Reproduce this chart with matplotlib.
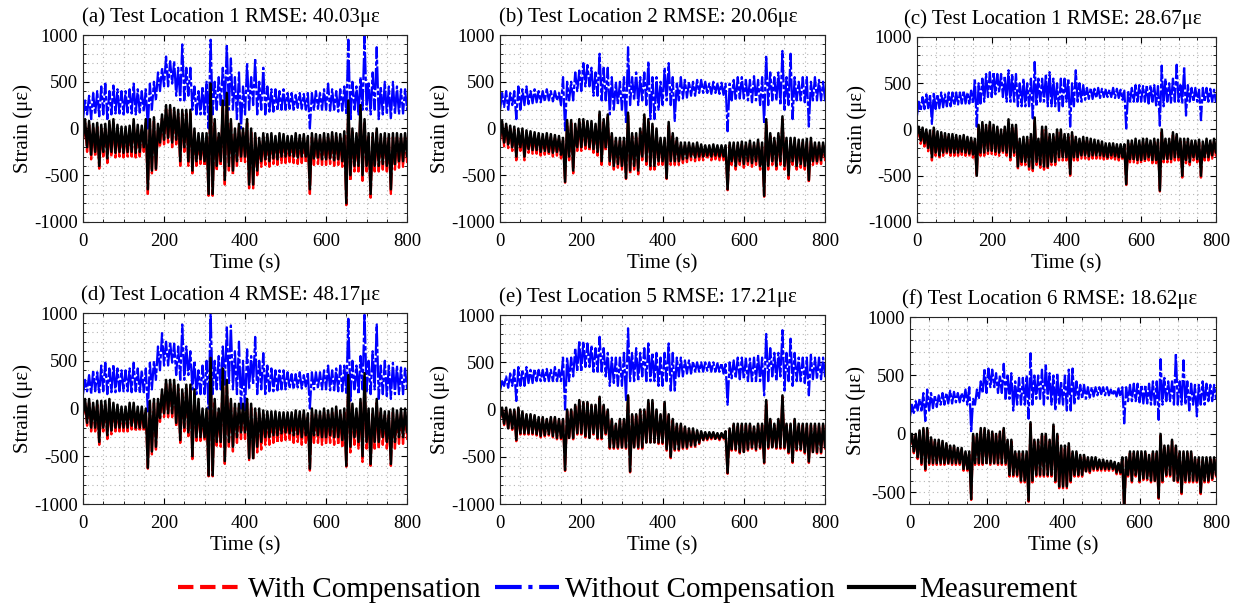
import numpy as np
import matplotlib
matplotlib.use('Agg')
import matplotlib.pyplot as plt
from matplotlib.lines import Line2D
from matplotlib.ticker import MultipleLocator

plt.rcParams['font.family'] = ['Liberation Serif', 'DejaVu Serif']
plt.rcParams['axes.unicode_minus'] = False

# time of each reading (10 s bins)
t = np.arange(0, 801, 10)

# upper / lower edge of each signal inside each 10 s bin (microstrain)
# (a) test location 1
a_with_hi = [60, 40, 10, 20, 0, 10, 40, 60, 0, -20,
             -20, -10, 60, 0, -10, 60, 60, 80, 10, 110,
             210, 210, 180, 160, 160, 160, 160, -40, -90, -90,
             -90, 440, 60, -90, 260, 340, 60, -40, 10, -40,
             60, -40, -90, -140, -90, -100, -90, -120, -90, -100,
             -120, -120, -90, -110, -100, -120, -90, -100, -110, -90,
             -100, -80, -90, -100, -70, 260, -40, -90, 210, 60,
             -90, -90, -40, -100, -90, -100, -90, -90, -100, -90,
             -120]
a_with_lo = [-120, -250, -330, -300, -430, -300, -370, -300, -310, -300,
             -310, -300, -300, -310, -300, -250, -700, -480, -460, -200,
             -170, -150, -200, -170, -400, -250, -400, -480, -400, -380,
             -400, -720, -720, -450, -400, -600, -450, -500, -400, -360,
             -360, -640, -640, -500, -410, -390, -410, -380, -390, -370,
             -370, -360, -370, -380, -370, -370, -700, -390, -380, -390,
             -390, -380, -400, -390, -410, -820, -560, -460, -460, -560,
             -460, -740, -460, -460, -440, -460, -700, -440, -420, -410,
             -360]
a_wo_hi = [300, 350, 380, 400, 450, 480, 400, 460, 420, 400,
           400, 420, 480, 420, 400, 420, 480, 500, 600, 650,
           770, 720, 720, 650, 900, 650, 650, 450, 400, 450,
           500, 950, 500, 550, 650, 900, 750, 550, 600, 450,
           700, 550, 750, 500, 650, 450, 420, 420, 400, 420,
           380, 380, 360, 380, 370, 380, 380, 400, 380, 420,
           480, 420, 400, 420, 450, 950, 500, 450, 550, 1000,
           500, 600, 870, 450, 500, 450, 500, 450, 420, 420,
           400]
a_wo_lo = [100, 150, 100, 150, 130, 150, 100, 150, 160, 160,
           150, 170, 160, 150, 170, 180, 0, 200, 300, 400,
           450, 450, 480, 350, 300, 300, 350, 200, 150, 150,
           150, 0, 150, 200, 250, 250, 200, 200, 100, 0,
           150, 200, 250, 150, 200, 150, 180, 180, 190, 200,
           200, 210, 200, 220, 210, 200, 0, 200, 210, 200,
           200, 190, 200, 180, 190, 150, 80, 200, 150, 200,
           200, 150, 200, 100, 150, 150, 100, 150, 150, 160,
           200]
a_meas_hi = [100, 80, 50, 60, 40, 50, 80, 100, 40, 20,
             20, 30, 100, 40, 30, 100, 100, 120, 50, 150,
             250, 250, 220, 200, 200, 200, 200, 0, -50, -50,
             -50, 480, 100, -50, 300, 380, 100, 0, 50, 0,
             100, 0, -50, -100, -50, -60, -50, -80, -50, -60,
             -80, -80, -50, -70, -60, -80, -50, -60, -70, -50,
             -60, -40, -50, -60, -30, 300, 0, -50, 250, 100,
             -50, -50, 0, -60, -50, -60, -50, -50, -60, -50,
             -80]
a_meas_lo = [-100, -200, -280, -250, -400, -250, -320, -250, -260, -250,
             -260, -250, -250, -260, -250, -200, -650, -450, -430, -150,
             -120, -100, -150, -120, -350, -200, -350, -450, -350, -330,
             -350, -700, -700, -400, -350, -550, -400, -450, -350, -300,
             -300, -600, -600, -450, -350, -330, -350, -320, -330, -300,
             -300, -290, -300, -310, -300, -300, -650, -320, -310, -330,
             -330, -320, -340, -330, -350, -800, -500, -400, -400, -500,
             -400, -700, -400, -400, -380, -400, -650, -380, -350, -350,
             -300]

# (b) test location 2
b_with_hi = [50, 20, 0, -10, -30, -30, -50, -60, -70, -80,
             -90, -80, -90, -100, -110, -130, 60, 60, 20, 70,
             70, 50, 50, 20, 150, 70, 120, -80, -130, -130,
             -130, 140, -80, -80, -30, 120, 70, 20, -30, -130,
             -130, 40, -80, -130, -180, -180, -180, -190, -180, -200,
             -210, -210, -200, -210, -210, -210, -180, -180, -180, -170,
             -180, -160, -180, -150, -180, 70, -80, -130, -80, 100,
             -130, -130, -130, -150, -150, -140, -130, -180, -180, -180,
             -180]
b_with_lo = [-130, -190, -210, -240, -340, -240, -340, -260, -270, -270,
             -290, -280, -290, -300, -290, -320, -580, -340, -480, -240,
             -240, -220, -240, -260, -290, -390, -240, -390, -440, -420,
             -440, -540, -490, -440, -490, -340, -390, -440, -440, -390,
             -390, -540, -390, -390, -390, -370, -360, -340, -350, -340,
             -340, -330, -340, -330, -340, -340, -660, -390, -440, -390,
             -420, -390, -410, -390, -440, -730, -440, -390, -440, -390,
             -440, -540, -390, -440, -420, -440, -580, -390, -390, -380,
             -340]
b_wo_hi = [380, 400, 380, 400, 450, 420, 450, 400, 420, 400,
           400, 420, 400, 400, 380, 550, 500, 500, 600, 620,
           700, 680, 650, 600, 800, 650, 650, 550, 500, 500,
           550, 870, 550, 600, 550, 600, 720, 550, 550, 500,
           650, 700, 550, 500, 550, 520, 500, 500, 520, 520,
           500, 480, 500, 480, 490, 480, 480, 520, 550, 550,
           520, 520, 560, 520, 550, 780, 600, 550, 600, 830,
           550, 800, 550, 500, 550, 550, 500, 550, 520, 500,
           450]
b_wo_lo = [200, 230, 200, 250, 100, 200, 250, 260, 270, 280,
           280, 290, 300, 290, 300, 250, -20, 300, 300, 400,
           400, 450, 450, 350, 350, 300, 300, 150, 200, 250,
           200, 50, 250, 300, 250, 300, 250, 100, 100, 200,
           250, 300, 250, 80, 300, 320, 330, 350, 350, 380,
           380, 380, 370, 380, 370, 360, -30, 300, 300, 320,
           320, 300, 280, 300, 250, 50, 250, 300, 300, 250,
           200, 250, 100, 300, 300, 280, 20, 300, 300, 300,
           300]
b_meas_hi = [80, 50, 30, 20, 0, 0, -20, -30, -40, -50,
             -60, -50, -60, -70, -80, -100, 90, 90, 50, 100,
             100, 80, 80, 50, 180, 100, 150, -50, -100, -100,
             -100, 170, -50, -50, 0, 150, 100, 50, 0, -100,
             -100, 70, -50, -100, -150, -150, -150, -160, -150, -170,
             -180, -180, -170, -180, -180, -180, -150, -150, -150, -140,
             -150, -130, -150, -120, -150, 100, -50, -100, -50, 130,
             -100, -100, -100, -120, -120, -110, -100, -150, -150, -150,
             -150]
b_meas_lo = [-100, -150, -170, -200, -300, -200, -300, -220, -230, -230,
             -250, -240, -250, -260, -250, -280, -570, -300, -450, -200,
             -200, -180, -200, -220, -250, -350, -200, -350, -400, -380,
             -400, -530, -450, -400, -450, -300, -350, -400, -400, -350,
             -350, -530, -350, -350, -350, -330, -320, -300, -310, -300,
             -300, -290, -300, -290, -300, -300, -650, -350, -400, -350,
             -380, -350, -370, -350, -400, -720, -400, -350, -400, -350,
             -400, -500, -350, -400, -380, -400, -550, -350, -350, -340,
             -300]

# (c) test location 1
c_with_hi = [0, -10, -30, -40, -10, -50, -60, -70, -80, -80,
             -90, -100, -90, -110, -120, -130, 20, 50, 20, 50,
             20, 0, -30, 0, 80, 20, 20, -130, -110, -110,
             -80, 100, -130, 0, 0, -80, -80, -30, -30, -80,
             -80, -60, -110, -130, -110, -120, -130, -140, -150, -160,
             -180, -180, -180, -190, -190, -190, -150, -150, -130, -150,
             -130, -130, -150, -130, -140, -30, -130, -130, -60, -80,
             -130, -130, -130, -150, -150, -140, -160, -130, -150, -130,
             -130]
c_with_lo = [-85, -155, -185, -235, -335, -285, -315, -285, -275, -285,
             -285, -285, -275, -285, -295, -305, -510, -285, -285, -265,
             -265, -275, -285, -265, -285, -335, -285, -435, -385, -385,
             -435, -450, -385, -415, -435, -435, -385, -385, -335, -335,
             -335, -500, -335, -335, -315, -315, -325, -315, -315, -315,
             -325, -335, -315, -325, -335, -335, -600, -355, -355, -365,
             -365, -355, -335, -365, -365, -670, -355, -355, -355, -335,
             -335, -520, -365, -385, -335, -355, -520, -335, -335, -315,
             -285]
c_wo_hi = [300, 350, 380, 380, 400, 380, 400, 380, 400, 400,
           400, 400, 420, 400, 420, 550, 500, 550, 600, 620,
           620, 600, 600, 580, 640, 600, 600, 500, 550, 500,
           550, 730, 550, 550, 600, 620, 550, 500, 550, 550,
           550, 500, 640, 500, 480, 450, 450, 440, 450, 440,
           430, 430, 450, 440, 430, 420, 420, 450, 480, 480,
           470, 480, 480, 480, 470, 690, 550, 500, 550, 700,
           480, 680, 480, 450, 450, 430, 450, 450, 440, 430,
           420]
c_wo_lo = [150, 200, 220, 230, 60, 220, 230, 240, 250, 250,
           260, 270, 280, 280, 280, 280, 30, 280, 300, 350,
           350, 380, 400, 350, 300, 300, 300, 250, 250, 250,
           250, 120, 250, 300, 300, 250, 250, 250, 200, 250,
           300, 30, 250, 300, 300, 320, 330, 330, 340, 340,
           350, 350, 350, 340, 340, 320, 10, 300, 300, 300,
           300, 300, 280, 300, 260, 40, 250, 300, 280, 300,
           300, 280, 150, 300, 300, 300, 100, 300, 300, 300,
           300]
c_meas_hi = [30, 20, 0, -10, 20, -20, -30, -40, -50, -50,
             -60, -70, -60, -80, -90, -100, 50, 80, 50, 80,
             50, 30, 0, 30, 110, 50, 50, -100, -80, -80,
             -50, 130, -100, 30, 30, -50, -50, 0, 0, -50,
             -50, -30, -80, -100, -80, -90, -100, -110, -120, -130,
             -150, -150, -150, -160, -160, -160, -120, -120, -100, -120,
             -100, -100, -120, -100, -110, 0, -100, -100, -30, -50,
             -100, -100, -100, -120, -120, -110, -130, -100, -120, -100,
             -100]
c_meas_lo = [-50, -120, -150, -200, -300, -250, -280, -250, -240, -250,
             -250, -250, -240, -250, -260, -270, -500, -250, -250, -230,
             -230, -240, -250, -230, -250, -300, -250, -400, -350, -350,
             -400, -420, -350, -380, -400, -400, -350, -350, -300, -300,
             -300, -480, -300, -300, -280, -280, -290, -280, -280, -280,
             -290, -300, -280, -290, -300, -300, -590, -320, -320, -330,
             -330, -320, -300, -330, -330, -660, -320, -320, -320, -300,
             -300, -500, -330, -350, -300, -320, -500, -300, -300, -280,
             -250]

# (d) test location 4
d_with_hi = [60, 60, 20, 40, 40, 40, 60, 20, 0, -20,
             -20, 20, 20, -20, -20, -40, 40, 60, 60, 160,
             260, 260, 260, 210, 160, 210, 210, 160, 60, -40,
             -40, 490, 60, -40, 380, 260, 60, 10, 10, 10,
             60, 10, -40, -40, -60, -70, -70, -70, -80, -80,
             -80, -80, -60, -70, -60, -90, -40, -60, -70, -40,
             -60, -40, -20, -60, -40, 310, 10, -40, 60, 330,
             -40, -40, 60, -40, -70, -70, -40, -60, -40, -40,
             -40]
d_with_lo = [-70, -180, -240, -240, -380, -240, -320, -270, -240, -240,
             -240, -240, -220, -240, -240, -240, -630, -480, -430, -140,
             -90, -90, -90, -190, -360, -240, -290, -530, -340, -340,
             -340, -710, -710, -390, -400, -580, -400, -450, -360, -320,
             -320, -540, -540, -460, -430, -380, -380, -360, -360, -340,
             -330, -340, -360, -350, -380, -360, -650, -360, -360, -380,
             -380, -360, -380, -380, -410, -610, -460, -380, -420, -560,
             -420, -600, -420, -420, -380, -420, -600, -420, -370, -370,
             -320]
d_wo_hi = [300, 350, 400, 380, 450, 480, 420, 460, 420, 400,
           400, 420, 480, 420, 400, 420, 480, 500, 650, 790,
           700, 700, 680, 650, 880, 650, 600, 500, 400, 450,
           500, 1000, 500, 550, 650, 850, 870, 600, 700, 500,
           620, 550, 750, 500, 580, 450, 420, 400, 400, 400,
           380, 360, 360, 380, 350, 380, 380, 380, 380, 400,
           450, 400, 420, 450, 450, 940, 500, 450, 550, 1000,
           500, 600, 880, 450, 500, 450, 480, 450, 430, 420,
           380]
d_wo_lo = [150, 180, 150, 180, 150, 180, 150, 170, 170, 180,
           180, 180, 170, 180, 160, 170, -30, 200, 300, 400,
           450, 450, 480, 350, 300, 300, 350, 200, 150, 150,
           150, 0, 150, 200, 200, 250, 250, 200, 150, 0,
           -20, 200, 250, 150, 200, 150, 180, 180, 190, 200,
           200, 210, 200, 220, 210, 230, 0, 200, 210, 200,
           200, 190, 190, 180, 180, 150, 80, 200, 150, 200,
           180, 150, 200, 100, 150, 130, 100, 150, 150, 150,
           200]
d_meas_hi = [100, 100, 60, 80, 80, 80, 100, 60, 40, 20,
             20, 60, 60, 20, 20, 0, 80, 100, 100, 200,
             300, 300, 300, 250, 200, 250, 250, 200, 100, 0,
             0, 530, 100, 0, 420, 300, 100, 50, 50, 50,
             100, 50, 0, 0, -20, -30, -30, -30, -40, -40,
             -40, -40, -20, -30, -20, -50, 0, -20, -30, 0,
             -20, 0, 20, -20, 0, 350, 50, 0, 100, 370,
             0, 0, 100, 0, -30, -30, 0, -20, 0, 0,
             0]
d_meas_lo = [-50, -150, -200, -200, -350, -200, -280, -230, -200, -200,
             -200, -200, -180, -200, -200, -200, -620, -450, -400, -100,
             -50, -50, -50, -150, -330, -200, -250, -500, -300, -300,
             -300, -700, -700, -350, -350, -550, -350, -400, -300, -250,
             -250, -520, -520, -400, -350, -300, -300, -280, -280, -260,
             -250, -260, -280, -270, -300, -280, -630, -280, -280, -300,
             -300, -280, -300, -300, -330, -600, -400, -300, -350, -500,
             -350, -580, -350, -350, -300, -350, -580, -350, -300, -300,
             -250]

# (e) test location 5
e_with_hi = [5, 5, -15, -15, 5, -35, -65, -65, -75, -95,
             -95, -115, -95, -95, -115, -115, -15, -15, 35, 85,
             65, 65, 35, 35, 120, 35, -15, -115, -165, -115,
             -115, 135, -65, -65, -15, -15, 85, 85, -15, -65,
             65, -65, -115, -165, -165, -195, -215, -215, -235, -245,
             -255, -255, -255, -265, -265, -245, -215, -165, -165, -165,
             -165, -165, -195, -165, -165, 85, -115, -165, -115, 135,
             -165, -165, -115, -165, -165, -165, -165, -165, -165, -165,
             -165]
e_with_lo = [-95, -165, -215, -215, -335, -265, -265, -265, -265, -275,
             -295, -285, -275, -295, -315, -315, -650, -315, -315, -265,
             -265, -295, -315, -265, -315, -315, -265, -415, -415, -415,
             -415, -415, -665, -415, -415, -415, -365, -365, -365, -365,
             -365, -435, -515, -435, -435, -415, -415, -395, -395, -365,
             -335, -325, -315, -325, -325, -315, -680, -435, -435, -465,
             -465, -435, -415, -435, -415, -570, -415, -415, -415, -415,
             -415, -465, -565, -435, -435, -465, -565, -465, -465, -465,
             -415]
e_wo_hi = [300, 350, 380, 420, 450, 420, 450, 420, 430, 420,
           420, 430, 420, 450, 420, 550, 550, 550, 650, 730,
           720, 700, 680, 650, 770, 650, 600, 550, 550, 550,
           600, 860, 600, 650, 600, 650, 700, 600, 600, 550,
           600, 700, 600, 550, 550, 520, 520, 510, 500, 500,
           500, 500, 500, 490, 490, 480, 500, 520, 550, 550,
           540, 540, 550, 580, 550, 800, 650, 600, 600, 840,
           600, 750, 600, 550, 550, 550, 580, 550, 550, 550,
           500]
e_wo_lo = [200, 250, 230, 250, 90, 250, 250, 280, 280, 300,
           300, 300, 300, 300, 300, 300, 0, 300, 350, 400,
           400, 450, 450, 400, 400, 400, 350, 250, 280, 250,
           250, 100, 300, 300, 300, 350, 300, 300, 300, 250,
           250, 300, 200, 200, 350, 350, 380, 380, 400, 400,
           400, 410, 400, 400, 400, 380, 50, 330, 330, 320,
           320, 300, 300, 300, 300, 150, 300, 350, 300, 350,
           200, 300, 250, 300, 300, 280, 150, 320, 320, 320,
           350]
e_meas_hi = [20, 20, 0, 0, 20, -20, -50, -50, -60, -80,
             -80, -100, -80, -80, -100, -100, 0, 0, 50, 100,
             80, 80, 50, 50, 135, 50, 0, -100, -150, -100,
             -100, 150, -50, -50, 0, 0, 100, 100, 0, -50,
             80, -50, -100, -150, -150, -180, -200, -200, -220, -230,
             -240, -240, -240, -250, -250, -230, -200, -150, -150, -150,
             -150, -150, -180, -150, -150, 100, -100, -150, -100, 150,
             -150, -150, -100, -150, -150, -150, -150, -150, -150, -150,
             -150]
e_meas_lo = [-80, -150, -200, -200, -320, -250, -250, -250, -250, -260,
             -280, -270, -260, -280, -300, -300, -640, -300, -300, -250,
             -250, -280, -300, -250, -300, -300, -250, -400, -400, -400,
             -400, -400, -655, -400, -400, -400, -350, -350, -350, -350,
             -350, -420, -500, -420, -420, -400, -400, -380, -380, -350,
             -320, -310, -300, -310, -310, -300, -670, -420, -420, -450,
             -450, -420, -400, -420, -400, -560, -400, -400, -400, -400,
             -400, -450, -550, -420, -420, -450, -550, -450, -450, -450,
             -400]

# (f) test location 6
f_with_hi = [-15, -15, 15, 35, 35, -45, -65, -65, -75, -95,
             -115, -115, -135, -135, -165, -165, -15, -15, 35, 35,
             15, 5, -15, 5, 35, -65, -65, -165, -165, -165,
             -165, 85, -65, -65, -15, -15, -65, 65, -15, -115,
             -115, -95, -165, -165, -195, -195, -215, -215, -215, -235,
             -235, -245, -245, -255, -265, -215, -215, -165, -165, -165,
             -165, -165, -195, -165, -165, -15, -115, -115, -65, -115,
             -165, -165, -165, -165, -215, -215, -215, -215, -215, -215,
             -215]
f_with_lo = [-95, -165, -215, -265, -315, -265, -265, -265, -265, -265,
             -265, -265, -265, -265, -315, -315, -565, -265, -265, -265,
             -265, -265, -265, -265, -265, -265, -365, -365, -365, -415,
             -415, -580, -415, -365, -365, -365, -365, -365, -415, -465,
             -465, -465, -415, -365, -365, -365, -335, -335, -315, -315,
             -315, -315, -315, -315, -345, -345, -660, -365, -415, -365,
             -415, -395, -395, -415, -415, -555, -415, -365, -365, -415,
             -415, -515, -415, -415, -415, -415, -515, -415, -415, -395,
             -365]
f_wo_hi = [250, 280, 300, 350, 380, 350, 330, 330, 350, 350,
           370, 360, 350, 350, 380, 400, 300, 380, 450, 560,
           560, 550, 520, 500, 600, 500, 520, 450, 480, 480,
           500, 690, 500, 500, 550, 600, 520, 500, 520, 450,
           500, 550, 560, 450, 420, 420, 400, 400, 400, 400,
           400, 400, 380, 380, 390, 400, 400, 420, 430, 430,
           420, 420, 430, 450, 450, 640, 480, 450, 450, 690,
           450, 630, 450, 430, 420, 420, 450, 430, 420, 420,
           400]
f_wo_lo = [150, 180, 200, 200, 110, 200, 220, 230, 250, 250,
           260, 260, 270, 270, 280, 250, 15, 250, 300, 350,
           350, 400, 400, 350, 350, 300, 300, 200, 250, 250,
           250, 130, 250, 300, 300, 250, 300, 250, 200, 250,
           250, 200, 200, 250, 300, 300, 300, 310, 320, 330,
           340, 330, 330, 330, 320, 320, 90, 280, 280, 280,
           270, 260, 260, 250, 250, 120, 250, 280, 280, 250,
           250, 250, 250, 200, 250, 150, 250, 250, 280, 280,
           300]
f_meas_hi = [0, 0, 30, 50, 50, -30, -50, -50, -60, -80,
             -100, -100, -120, -120, -150, -150, 0, 0, 50, 50,
             30, 20, 0, 20, 50, -50, -50, -150, -150, -150,
             -150, 100, -50, -50, 0, 0, -50, 80, 0, -100,
             -100, -80, -150, -150, -180, -180, -200, -200, -200, -220,
             -220, -230, -230, -240, -250, -200, -200, -150, -150, -150,
             -150, -150, -180, -150, -150, 0, -100, -100, -50, -100,
             -150, -150, -150, -150, -200, -200, -200, -200, -200, -200,
             -200]
f_meas_lo = [-80, -150, -200, -250, -300, -250, -250, -250, -250, -250,
             -250, -250, -250, -250, -300, -300, -557, -250, -250, -250,
             -250, -250, -250, -250, -250, -250, -350, -350, -350, -400,
             -400, -570, -400, -350, -350, -350, -350, -350, -400, -450,
             -450, -450, -400, -350, -350, -350, -320, -320, -300, -300,
             -300, -300, -300, -300, -330, -330, -650, -350, -400, -350,
             -400, -380, -380, -400, -400, -545, -400, -350, -350, -400,
             -400, -500, -400, -400, -400, -400, -500, -400, -400, -380,
             -350]

titles = ['(a) Test Location 1 RMSE: 40.03με',
          '(b) Test Location 2 RMSE: 20.06με',
          '(c) Test Location 1 RMSE: 28.67με',
          '(d) Test Location 4 RMSE: 48.17με',
          '(e) Test Location 5 RMSE: 17.21με',
          '(f) Test Location 6 RMSE: 18.62με']
legend_labels = ['With Compensation', 'Without Compensation', 'Measurement']

panels = [
    ((a_with_lo, a_with_hi), (a_wo_lo, a_wo_hi), (a_meas_lo, a_meas_hi)),
    ((b_with_lo, b_with_hi), (b_wo_lo, b_wo_hi), (b_meas_lo, b_meas_hi)),
    ((c_with_lo, c_with_hi), (c_wo_lo, c_wo_hi), (c_meas_lo, c_meas_hi)),
    ((d_with_lo, d_with_hi), (d_wo_lo, d_wo_hi), (d_meas_lo, d_meas_hi)),
    ((e_with_lo, e_with_hi), (e_wo_lo, e_wo_hi), (e_meas_lo, e_meas_hi)),
    ((f_with_lo, f_with_hi), (f_wo_lo, f_wo_hi), (f_meas_lo, f_meas_hi)),
]

# axes rectangles (figure fraction)
rects = [[0.0668, 0.6367, 0.2607, 0.3060],
         [0.4023, 0.6367, 0.2615, 0.3060],
         [0.7377, 0.6367, 0.2405, 0.3028],
         [0.0668, 0.1751, 0.2607, 0.3126],
         [0.4023, 0.1751, 0.2615, 0.3093],
         [0.7321, 0.1751, 0.2462, 0.3060]]


def trace(lo, hi):
    # low reading at the start of each bin, high reading half way through
    x = np.column_stack([t, t + 5]).ravel()
    y = np.column_stack([lo, hi]).ravel()
    return x, y


fig = plt.figure(figsize=(12.43, 6.11), dpi=100)

for k in range(6):
    ax = fig.add_axes(rects[k])
    w, wo, m = panels[k]
    ax.plot(*trace(*w), color='red', lw=1.7, dashes=(8, 1))
    ax.plot(*trace(*wo), color='blue', lw=1.6, dashes=(10, 1, 2, 1))
    ax.plot(*trace(*m), color='black', ls='-', lw=1.8)
    ax.set_xlim(0, 800)
    if k == 5:
        ax.set_ylim(-600, 1000)
    else:
        ax.set_ylim(-1000, 1000)
    ax.xaxis.set_major_locator(MultipleLocator(200))
    ax.xaxis.set_minor_locator(MultipleLocator(50))
    ax.yaxis.set_major_locator(MultipleLocator(500))
    ax.yaxis.set_minor_locator(MultipleLocator(100))
    ax.grid(True, which='both', ls=(0, (1, 3)), color='#b5b5b5', lw=0.8)
    ax.set_axisbelow(True)
    ax.tick_params(which='both', direction='in', top=True, right=True, labelsize=13.5)
    ax.tick_params(axis='x', which='major', pad=8)
    ax.tick_params(which='major', length=4)
    ax.tick_params(which='minor', length=2)
    for s in ax.spines.values():
        s.set_color('#262626')
        s.set_linewidth(0.8)
    ax.set_title(titles[k], fontsize=15, pad=9.5, x=0.456)
    ax.set_xlabel('Time (s)', fontsize=15, labelpad=3)
    ax.set_ylabel('Strain (με)', fontsize=15, labelpad=1)

handles = [Line2D([], [], color='red', ls='--', lw=3),
           Line2D([], [], color='blue', ls='-.', lw=3),
           Line2D([], [], color='black', ls='-', lw=3)]
fig.legend(handles, legend_labels, loc='center', bbox_to_anchor=(0.505, 0.034),
           ncol=3, frameon=False, fontsize=21, handlelength=2.2,
           handletextpad=0.2, columnspacing=0.5)

fig.savefig('out.png', dpi=100)
